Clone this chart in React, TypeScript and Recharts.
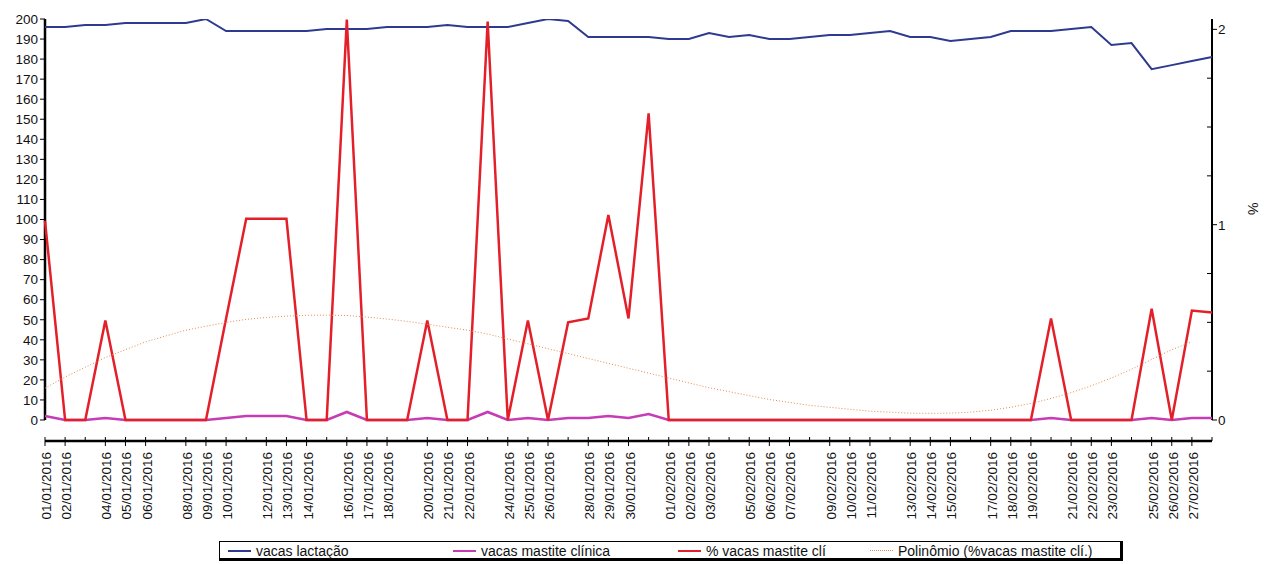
import { LineChart, Line, XAxis, YAxis, ReferenceLine } from 'recharts';

const dates = [
    '01/01/2016', '02/01/2016', '03/01/2016', '04/01/2016', '05/01/2016', '06/01/2016', '07/01/2016', '08/01/2016',
    '09/01/2016', '10/01/2016', '11/01/2016', '12/01/2016', '13/01/2016', '14/01/2016', '15/01/2016', '16/01/2016',
    '17/01/2016', '18/01/2016', '19/01/2016', '20/01/2016', '21/01/2016', '22/01/2016', '23/01/2016', '24/01/2016',
    '25/01/2016', '26/01/2016', '27/01/2016', '28/01/2016', '29/01/2016', '30/01/2016', '31/01/2016', '01/02/2016',
    '02/02/2016', '03/02/2016', '04/02/2016', '05/02/2016', '06/02/2016', '07/02/2016', '08/02/2016', '09/02/2016',
    '10/02/2016', '11/02/2016', '12/02/2016', '13/02/2016', '14/02/2016', '15/02/2016', '16/02/2016', '17/02/2016',
    '18/02/2016', '19/02/2016', '20/02/2016', '21/02/2016', '22/02/2016', '23/02/2016', '24/02/2016', '25/02/2016',
    '26/02/2016', '27/02/2016', '28/02/2016',
];

// Excel skipped every fourth label
const shownDates = [
    '01/01/2016', '02/01/2016', '04/01/2016', '05/01/2016', '06/01/2016', '08/01/2016', '09/01/2016', '10/01/2016',
    '12/01/2016', '13/01/2016', '14/01/2016', '16/01/2016', '17/01/2016', '18/01/2016', '20/01/2016', '21/01/2016',
    '22/01/2016', '24/01/2016', '25/01/2016', '26/01/2016', '28/01/2016', '29/01/2016', '30/01/2016', '01/02/2016',
    '02/02/2016', '03/02/2016', '05/02/2016', '06/02/2016', '07/02/2016', '09/02/2016', '10/02/2016', '11/02/2016',
    '13/02/2016', '14/02/2016', '15/02/2016', '17/02/2016', '18/02/2016', '19/02/2016', '21/02/2016', '22/02/2016',
    '23/02/2016', '25/02/2016', '26/02/2016', '27/02/2016',
];

const vacasLactacao = [
    196, 196, 197, 197, 198, 198, 198, 198, 200, 194, 194, 194, 194, 194, 195, 195,
    195, 196, 196, 196, 197, 196, 196, 196, 198, 200, 199, 191, 191, 191, 191, 190,
    190, 193, 191, 192, 190, 190, 191, 192, 192, 193, 194, 191, 191, 189, 190, 191,
    194, 194, 194, 195, 196, 187, 188, 175, 177, 179, 181,
];

const vacasMastite = [
    2, 0, 0, 1, 0, 0, 0, 0, 0, 1, 2, 2, 2, 0, 0, 4,
    0, 0, 0, 1, 0, 0, 4, 0, 1, 0, 1, 1, 2, 1, 3, 0,
    0, 0, 0, 0, 0, 0, 0, 0, 0, 0, 0, 0, 0, 0, 0, 0,
    0, 0, 1, 0, 0, 0, 0, 1, 0, 1, 1,
];

const pctMastite = [
    1.02, 0, 0, 0.51, 0, 0, 0, 0, 0, 0.52, 1.03, 1.03, 1.03, 0, 0, 2.05,
    0, 0, 0, 0.51, 0, 0, 2.04, 0, 0.51, 0, 0.5, 0.52, 1.05, 0.52, 1.57, 0,
    0, 0, 0, 0, 0, 0, 0, 0, 0, 0, 0, 0, 0, 0, 0, 0,
    0, 0, 0.52, 0, 0, 0, 0, 0.57, 0, 0.56, 0.55,
];

const polinomio = [
    0.163, 0.22, 0.27, 0.32, 0.36, 0.4, 0.43, 0.46, 0.48, 0.5, 0.515, 0.525, 0.532, 0.536, 0.537, 0.535,
    0.527, 0.517, 0.505, 0.49, 0.475, 0.46, 0.44, 0.415, 0.39, 0.365, 0.34, 0.315, 0.29, 0.265, 0.24, 0.215,
    0.19, 0.165, 0.145, 0.125, 0.105, 0.09, 0.075, 0.065, 0.055, 0.045, 0.04, 0.035, 0.034, 0.035, 0.04, 0.05,
    0.065, 0.085, 0.11, 0.14, 0.175, 0.215, 0.26, 0.31, 0.36, 0.4, null,
];

const leftTicks = [0, 10, 20, 30, 40, 50, 60, 70, 80, 90, 100, 110, 120, 130, 140, 150, 160, 170, 180, 190, 200];
const pctTicks = [0, 0.25, 0.5, 0.75, 1, 1.25, 1.5, 1.75, 2];

const legendItems = [
    { label: 'vacas lactação', color: '#2e3a8f', dotted: false, left: 8 },
    { label: 'vacas mastite clínica', color: '#c63cb4', dotted: false, left: 233 },
    { label: '% vacas mastite clí', color: '#e3202a', dotted: false, left: 458 },
    { label: 'Polinômio (%vacas mastite clí.)', color: '#e38a4c', dotted: true, left: 650 },
];

const FONT = '"Liberation Sans", Arial, sans-serif';

const data = dates.map((date, i) => ({
    date,
    lact: vacasLactacao[i],
    mast: vacasMastite[i],
    pct: pctMastite[i],
    poly: polinomio[i],
}));

function DateTick({ x, y, payload }: any) {
    const shown = shownDates.includes(payload.value);
    return (
        <g transform={`translate(${x},${y})`}>
            {shown ? (
                <>
                    <line x1={0} y1={-4} x2={0} y2={5} stroke="#000" strokeWidth={1} />
                    <text
                        transform="rotate(-90)"
                        x={-11}
                        y={6}
                        textAnchor="end"
                        fontSize={13.5}
                        fontFamily={FONT}
                        fill="#111"
                    >
                        {payload.value}
                    </text>
                </>
            ) : (
                <line x1={0} y1={-4} x2={0} y2={0} stroke="#000" strokeWidth={1} />
            )}
        </g>
    );
}

function PctTick({ x, y, payload }: any) {
    const major = Number.isInteger(payload.value);
    if (!major) {
        return <line x1={x - 5} y1={y} x2={x} y2={y} stroke="#000" strokeWidth={1} />;
    }
    return (
        <g>
            <line x1={x} y1={y} x2={x + 5} y2={y} stroke="#000" strokeWidth={1} />
            <text x={x + 6} y={y + 5} fontSize={13.5} fontFamily={FONT} fill="#111">
                {payload.value}
            </text>
        </g>
    );
}

export default function App() {
    return (
        <div style={{ position: 'absolute', left: 0, top: 0, width: 1267, height: 564, background: '#fff' }}>
            <LineChart width={1267} height={564} data={data} margin={{ top: 19, right: 0, bottom: 0, left: 0 }}>
                <XAxis
                    dataKey="date"
                    interval={0}
                    height={123}
                    tickSize={0}
                    tickMargin={0}
                    tickLine={false}
                    axisLine={{ stroke: '#000', strokeWidth: 2.5 }}
                    tick={<DateTick />}
                />
                <YAxis
                    yAxisId="left"
                    width={45}
                    domain={[-10.48, 200]}
                    allowDataOverflow
                    ticks={leftTicks}
                    interval={0}
                    axisLine={false}
                    tickLine={{ stroke: '#000' }}
                    tickSize={5}
                    tickMargin={2}
                    tick={{ fontSize: 13.5, fontFamily: FONT, fill: '#111' }}
                />
                <YAxis
                    yAxisId="right"
                    orientation="right"
                    width={55}
                    domain={[-0.1075, 2.053]}
                    allowDataOverflow
                    ticks={pctTicks}
                    interval={0}
                    axisLine={false}
                    tickLine={false}
                    tickSize={0}
                    tickMargin={0}
                    tick={<PctTick />}
                    label={{ value: '%', angle: 90, position: 'insideRight', offset: 14, dy: -15, fontSize: 14, fontFamily: FONT, fill: '#111' }}
                />
                <ReferenceLine
                    yAxisId="left"
                    segment={[{ x: dates[0], y: 0 }, { x: dates[0], y: 200 }]}
                    stroke="#000"
                    strokeWidth={2.5}
                />
                <ReferenceLine
                    yAxisId="right"
                    segment={[{ x: dates[dates.length - 1], y: 0 }, { x: dates[dates.length - 1], y: 2.053 }]}
                    stroke="#000"
                    strokeWidth={2}
                />
                <Line yAxisId="left" dataKey="lact" stroke="#2e3a8f" strokeWidth={2} dot={false} isAnimationActive={false} />
                <Line yAxisId="left" dataKey="mast" stroke="#c63cb4" strokeWidth={2.5} dot={false} isAnimationActive={false} />
                <Line yAxisId="right" dataKey="pct" stroke="#e3202a" strokeWidth={2.5} dot={false} isAnimationActive={false} />
                <Line
                    yAxisId="right"
                    dataKey="poly"
                    stroke="#e38a4c"
                    strokeWidth={1}
                    strokeDasharray="1 2"
                    dot={false}
                    isAnimationActive={false}
                />
            </LineChart>
            <div
                style={{
                    position: 'absolute',
                    left: 219,
                    top: 541,
                    width: 904,
                    height: 20,
                    border: '1px solid #000',
                    borderRight: '3px solid #000',
                    borderBottom: '3px solid #000',
                    fontFamily: FONT,
                    fontSize: 14,
                    color: '#111',
                    boxSizing: 'border-box',
                }}
            >
                {legendItems.map((item) => (
                    <div key={item.label} style={{ position: 'absolute', left: item.left, top: 0, height: 17, display: 'flex', alignItems: 'center' }}>
                        <span
                            style={{
                                display: 'inline-block',
                                width: 23,
                                borderTop: item.dotted ? `1px dotted ${item.color}` : `2.5px solid ${item.color}`,
                                marginRight: 5,
                            }}
                        />
                        <span style={{ whiteSpace: 'nowrap' }}>{item.label}</span>
                    </div>
                ))}
            </div>
        </div>
    );
}
